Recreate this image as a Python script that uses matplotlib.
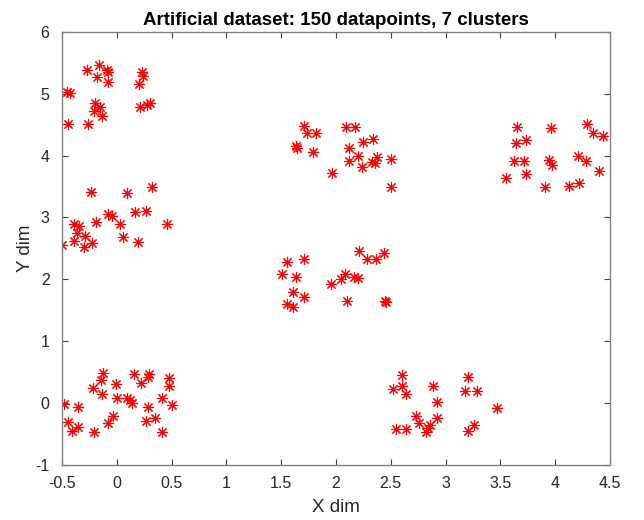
import matplotlib
matplotlib.use("Agg")
from matplotlib import pyplot as plt
import numpy as np

plt.rcParams['font.family'] = ['Liberation Sans', 'DejaVu Sans']
plt.rcParams['axes.unicode_minus'] = False

c1_x = [-0.275, -0.16, -0.092, -0.077, -0.183, -0.077, -0.457, -0.427, -0.199, -0.153,
        -0.205, -0.132, -0.448, -0.266, 0.233, 0.242, 0.203, 0.212, 0.273, 0.303]
c1_y = [5.385, 5.47, 5.385, 5.36, 5.267, 5.186, 5.034, 5.008, 4.846, 4.79,
        4.72, 4.646, 4.506, 4.516, 5.36, 5.29, 5.154, 4.79, 4.82, 4.846]

c2_x = [-0.235, 0.096, 0.324, -0.077, -0.047, -0.19, -0.39, -0.345, 0.166, 0.266,
        0.029, 0.455, -0.366, -0.29, -0.39, -0.297, -0.224, -0.497, 0.059, 0.19]
c2_y = [3.406, 3.39, 3.497, 3.05, 3.023, 2.92, 2.90, 2.866, 3.083, 3.10,
        2.889, 2.889, 2.742, 2.704, 2.618, 2.526, 2.58, 2.553, 2.678, 2.597]

c3_x = [-0.123, -0.147, -0.22, -0.138, -0.01, 0.157, 0.297, 0.282, 0.221, 0.476,
        0.476, -0.482, -0.357, -0.001, 0.09, 0.12, 0.141, 0.282, 0.415, 0.501,
        -0.032, -0.083, -0.448, -0.411, -0.357, -0.205, 0.264, 0.349, 0.415]
c3_y = [0.477, 0.369, 0.245, 0.137, 0.304, 0.466, 0.466, 0.423, 0.326, 0.396,
        0.272, -0.025, -0.063, 0.083, 0.083, 0.045, -0.008, -0.063, 0.072, -0.036,
        -0.209, -0.322, -0.306, -0.456, -0.387, -0.477, -0.29, -0.241, -0.477]

c4_x = [1.711, 1.738, 1.818, 1.635, 1.647, 1.787, 1.961, 2.091, 2.173, 2.119,
        2.244, 2.335, 2.203, 2.119, 2.234, 2.326, 2.356, 2.377, 2.499, 2.499]
c4_y = [4.484, 4.37, 4.36, 4.155, 4.118, 4.053, 3.714, 4.458, 4.458, 4.128,
        4.215, 4.269, 3.994, 3.913, 3.821, 3.902, 3.875, 3.972, 3.945, 3.497]

c5_x = [1.55, 1.711, 1.505, 1.635, 1.605, 1.711, 1.556, 1.605, 1.952, 2.046,
        2.082, 2.164, 2.198, 2.103, 2.206, 2.286, 2.362, 2.438, 2.447, 2.456]
c5_y = [2.273, 2.327, 2.079, 2.04, 1.798, 1.717, 1.594, 1.545, 1.917, 2.003,
        2.084, 2.04, 2.024, 1.652, 2.456, 2.327, 2.327, 2.429, 1.647, 1.636]

c6_x = [2.599, 2.517, 2.599, 2.636, 2.888, 2.924, 2.727, 2.76, 2.924, 2.858,
        2.842, 2.821, 2.545, 2.636, 3.207, 3.177, 3.289, 3.466, 3.259, 3.207]
c6_y = [0.45, 0.218, 0.272, 0.142, 0.272, 0.018, -0.214, -0.322, -0.251, -0.359,
        -0.413, -0.467, -0.429, -0.424, 0.413, 0.196, 0.196, -0.089, -0.359, -0.451]

c7_x = [3.654, 3.959, 4.287, 4.348, 4.439, 3.642, 3.734, 3.624, 3.718, 3.946,
        3.973, 4.211, 4.278, 3.734, 3.548, 4.402, 3.907, 4.126, 4.217]
c7_y = [4.458, 4.442, 4.511, 4.361, 4.317, 4.199, 4.252, 3.917, 3.917, 3.929,
        3.848, 3.994, 3.917, 3.702, 3.633, 3.756, 3.487, 3.513, 3.562]

xs = np.concatenate([c1_x, c2_x, c3_x, c4_x, c5_x, c6_x, c7_x])
ys = np.concatenate([c1_y, c2_y, c3_y, c4_y, c5_y, c6_y, c7_y])

fig = plt.figure(figsize=(6.44, 5.2), dpi=100)
ax = fig.add_axes([0.0963, 0.1065, 0.8507, 0.832])

# asterisk markers, 8 spokes
ax.plot(xs, ys, linestyle='none', marker=(8, 2, 0), markersize=8,
        markeredgecolor='red', markerfacecolor='red', markeredgewidth=0.8)

ax.set_xlim(-0.5, 4.5)
ax.set_ylim(-1, 6)
ax.set_xticks(np.arange(-0.5, 4.51, 0.5))
ax.set_xticklabels(['-0.5', '0', '0.5', '1', '1.5', '2', '2.5', '3', '3.5', '4', '4.5'])
ax.set_yticks(np.arange(-1, 7, 1))

gray = '#262626'
for s in ax.spines.values():
    s.set_color('#808080')
    s.set_linewidth(1.0)
ax.tick_params(direction='in', top=True, right=True, length=4, width=0.8,
               color='#404040', labelsize=11.5, labelcolor=gray)
ax.tick_params(axis='x', pad=8)
ax.tick_params(axis='y', pad=9)

ax.set_xlabel('X dim', fontsize=13.5, color=gray, labelpad=6)
ax.set_ylabel('Y dim', fontsize=13.5, color=gray, labelpad=1)
ax.set_title('Artificial dataset: 150 datapoints, 7 clusters', fontsize=13.5,
             fontweight='bold', color='black', pad=5)

fig.savefig('out.png', dpi=100)
